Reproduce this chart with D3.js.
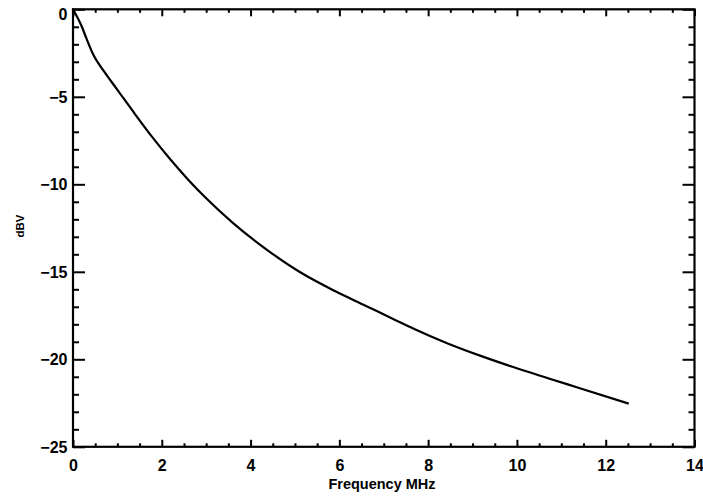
<!DOCTYPE html>
<html>
<head>
<meta charset="utf-8">
<script src="https://cdn.jsdelivr.net/npm/d3@7"></script>
<style>
  html, body { margin: 0; padding: 0; background: #fff; }
  svg { display: block; }
  text { font-family: "Liberation Sans", Arial, Helvetica, sans-serif; font-weight: bold; fill: #000; }
</style>
</head>
<body>
<script>
// ---- data ----
const freqMHz = [0, 0.2, 0.3, 0.45, 0.7, 1.0, 1.4, 1.8, 2.2, 2.6, 3.0, 3.6, 4.4, 5.1, 5.9, 6.6, 7.2, 7.7, 8.4, 9.2, 9.9, 10.7, 11.4, 12.5];
const dBV     = [0, -1.0, -1.65, -2.55, -3.55, -4.6, -6.0, -7.35, -8.6, -9.75, -10.8, -12.2, -13.8, -15.0, -16.1, -16.95, -17.68, -18.28, -19.05, -19.82, -20.43, -21.08, -21.64, -22.52];
const xMajorTicks = [0, 2, 4, 6, 8, 10, 12, 14];
const yMajorTicks = [0, -5, -10, -15, -20, -25];
const xTitle = "Frequency MHz";
const yTitle = "dBV";

const W = 703, H = 497;
const m = { left: 73, right: 8.5, top: 9.3, bottom: 50.2 };
const iw = W - m.left - m.right, ih = H - m.top - m.bottom;

const svg = d3.select("body").append("svg").attr("width", W).attr("height", H);
const g = svg.append("g").attr("transform", `translate(${m.left},${m.top})`);

const x = d3.scaleLinear().domain([0, 14]).range([0, iw]);
const y = d3.scaleLinear().domain([-25, 0]).range([ih, 0]);

const xMinor = d3.range(0, 14.001, 0.5).filter(v => Math.abs(v % 2) > 1e-6);
const yMinor = d3.range(-25, 0.001, 1).filter(v => Math.abs(v % 5) > 1e-6);

const fmt = v => (v < 0 ? "\u2212" + Math.abs(v) : String(v));

function styleAxis(sel) {
  sel.select(".domain").remove();
  sel.selectAll("line").attr("stroke", "#000").attr("stroke-width", 2);
}

// bottom
g.append("g").attr("transform", `translate(0,${ih})`)
  .call(d3.axisBottom(x).tickValues(xMajorTicks).tickSizeInner(-7).tickSizeOuter(0).tickFormat(fmt))
  .call(styleAxis)
  .selectAll("text").attr("font-size", 16).attr("y", 24.5).attr("dy", 0);
g.append("g").attr("transform", `translate(0,${ih})`)
  .call(d3.axisBottom(x).tickValues(xMinor).tickSizeInner(-3.5).tickSizeOuter(0).tickFormat(""))
  .call(styleAxis);
// top
g.append("g")
  .call(d3.axisTop(x).tickValues(xMajorTicks).tickSizeInner(-7).tickSizeOuter(0).tickFormat(""))
  .call(styleAxis);
g.append("g")
  .call(d3.axisTop(x).tickValues(xMinor).tickSizeInner(-3.5).tickSizeOuter(0).tickFormat(""))
  .call(styleAxis);
// left
g.append("g")
  .call(d3.axisLeft(y).tickValues(yMajorTicks).tickSizeInner(-12).tickSizeOuter(0).tickPadding(5.5).tickFormat(fmt))
  .call(styleAxis)
  .selectAll("text").attr("font-size", 16)
  .attr("dy", d => (d === 0 ? "0.62em" : "0.34em"));
g.append("g")
  .call(d3.axisLeft(y).tickValues(yMinor).tickSizeInner(-6).tickSizeOuter(0).tickFormat(""))
  .call(styleAxis);
// right
g.append("g").attr("transform", `translate(${iw},0)`)
  .call(d3.axisRight(y).tickValues(yMajorTicks).tickSizeInner(-12).tickSizeOuter(0).tickFormat(""))
  .call(styleAxis);
g.append("g").attr("transform", `translate(${iw},0)`)
  .call(d3.axisRight(y).tickValues(yMinor).tickSizeInner(-6).tickSizeOuter(0).tickFormat(""))
  .call(styleAxis);

// frame
g.append("rect").attr("x", 0).attr("y", 0).attr("width", iw).attr("height", ih)
  .attr("fill", "none").attr("stroke", "#000").attr("stroke-width", 2.2);

// curve
const pts = freqMHz.map((f, i) => [f, dBV[i]]);
g.append("path").datum(pts)
  .attr("fill", "none").attr("stroke", "#000").attr("stroke-width", 2.2)
  .attr("stroke-linejoin", "round").attr("stroke-linecap", "round")
  .attr("d", d3.line().x(d => x(d[0])).y(d => y(d[1])).curve(d3.curveMonotoneX));

// titles
svg.append("text").attr("x", 382).attr("y", 489)
  .attr("text-anchor", "middle").attr("font-size", 14.5).text(xTitle);
svg.append("text").attr("transform", `translate(23.5,${226}) rotate(-90)`)
  .attr("text-anchor", "middle").attr("font-size", 11.5).text(yTitle);
</script>
</body>
</html>
